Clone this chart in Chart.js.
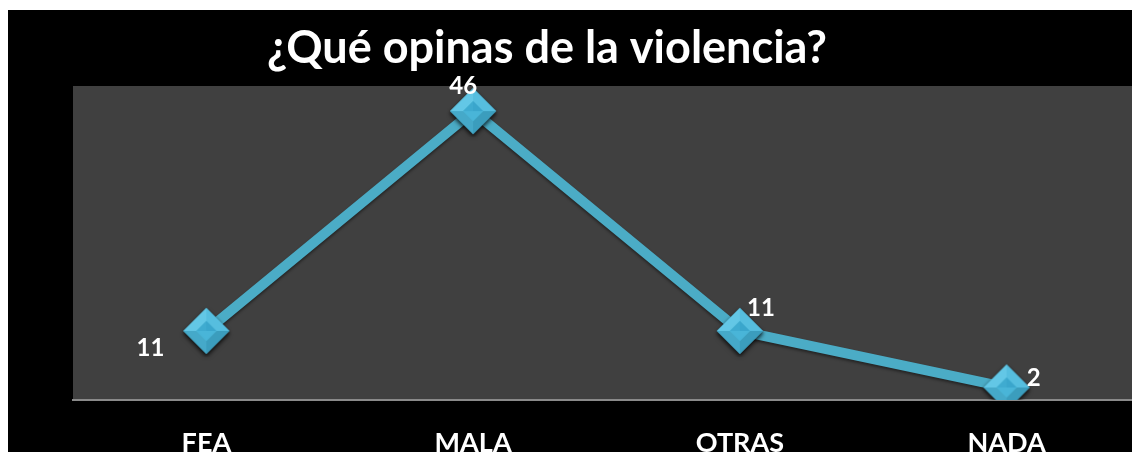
<!DOCTYPE html>
<html>
<head>
<meta charset="utf-8">
<script src="https://cdn.jsdelivr.net/npm/chart.js@4.4.0/dist/chart.umd.min.js"></script>
<style>
  html, body { margin: 0; padding: 0; background: #fff; overflow: hidden; }
  #marco { position: absolute; left: 8px; top: 10px; width: 1132px; height: 470px; background: #000; }
</style>
</head>
<body>
<div id="marco"><canvas id="grafica" width="1132" height="470"></canvas></div>
<script>
// Datos de la gráfica
const titulo = '¿Qué opinas de la violencia?';
const categorias = ['FEA', 'MALA', 'OTRAS', 'NADA'];
const valores = [11, 46, 11, 2];
const ejeMax = 50;

// desplazamiento de cada etiqueta respecto a su punto (solo estilo)
const desplazamientos = [[-56, 17], [-10, -25], [21, -23], [27, -9]];

const azul = '#4bacc6';

// marcador en forma de rombo con biselado
function crearRombo() {
  const c = document.createElement('canvas');
  c.width = 52; c.height = 52;
  const g = c.getContext('2d');
  const cx = 26, cy = 26, R = 23, r = 10;
  const T = [cx, cy - R], D = [cx + R, cy], B = [cx, cy + R], L = [cx - R, cy];
  const t = [cx, cy - r], d = [cx + r, cy], b = [cx, cy + r], l = [cx - r, cy];
  function poly(pts, color) {
    g.beginPath();
    g.moveTo(pts[0][0], pts[0][1]);
    for (let i = 1; i < pts.length; i++) g.lineTo(pts[i][0], pts[i][1]);
    g.closePath();
    g.fillStyle = color;
    g.fill();
  }
  g.save();
  g.shadowColor = 'rgba(0,0,0,0.55)';
  g.shadowBlur = 4;
  g.shadowOffsetY = 2;
  poly([T, D, B, L], '#4db4d4');
  g.restore();
  poly([T, t, l, L], '#63c7e6');
  poly([T, D, d, t], '#56bedf');
  poly([D, B, b, d], '#3b9dbd');
  poly([B, L, l, b], '#45a9c9');
  poly([t, d, [cx, cy]], '#3aa6cc');
  poly([t, l, [cx, cy]], '#3fabd0');
  poly([l, b, d, [cx, cy]], '#49b5d8');
  return c;
}

// fondo gris del área de trazado
const fondoArea = {
  id: 'fondoArea',
  beforeDraw(chart) {
    const a = chart.chartArea;
    const ctx = chart.ctx;
    ctx.save();
    ctx.fillStyle = '#404040';
    ctx.fillRect(a.left, a.top, a.right - a.left, a.bottom - a.top);
    ctx.restore();
  }
};

// título dibujado a mano para poder desplazarlo
const tituloPlugin = {
  id: 'tituloPlugin',
  afterDraw(chart) {
    const ctx = chart.ctx;
    ctx.save();
    ctx.font = 'bold 45px Lato';
    ctx.fillStyle = '#fff';
    ctx.textAlign = 'center';
    ctx.textBaseline = 'alphabetic';
    ctx.fillText(titulo, chart.width / 2 - 27, 53);
    ctx.restore();
  }
};

// etiquetas con los valores
const etiquetas = {
  id: 'etiquetas',
  afterDatasetsDraw(chart) {
    const ctx = chart.ctx;
    const meta = chart.getDatasetMeta(0);
    ctx.save();
    ctx.font = 'bold 24px Lato';
    ctx.fillStyle = '#fff';
    ctx.textAlign = 'center';
    ctx.textBaseline = 'middle';
    meta.data.forEach(function(p, i) {
      const off = desplazamientos[i];
      ctx.fillText(String(valores[i]), p.x + off[0], p.y + off[1]);
    });
    ctx.restore();
  }
};

// sombra ligera bajo la línea
const sombra = {
  id: 'sombra',
  beforeDatasetsDraw(chart) {
    const ctx = chart.ctx;
    ctx.save();
    ctx.shadowColor = 'rgba(0,0,0,0.45)';
    ctx.shadowBlur = 3;
    ctx.shadowOffsetY = 2;
  },
  afterDatasetsDraw(chart) {
    chart.ctx.restore();
  }
};

const ctx = document.getElementById('grafica').getContext('2d');
const grafica = new Chart(ctx, {
  type: 'line',
  data: {
    labels: categorias,
    datasets: [{
      data: valores,
      borderColor: azul,
      borderWidth: 10,
      tension: 0,
      fill: false,
      pointStyle: crearRombo(),
      pointRadius: 23,
      pointHoverRadius: 23
    }]
  },
  options: {
    responsive: false,
    animation: false,
    events: [],
    layout: { autoPadding: false, padding: { top: 76, left: 65, right: 0, bottom: 0 } },
    plugins: {
      legend: { display: false },
      title: { display: false },
      tooltip: { enabled: false }
    },
    scales: {
      x: {
        offset: true,
        grid: { display: false, drawTicks: false },
        border: { display: true, color: '#8a8a8a', width: 2 },
        ticks: {
          color: '#fff',
          padding: 27,
          font: { family: 'Lato', size: 27, weight: 'bold' }
        },
        afterFit(scale) { scale.height = 80; }
      },
      y: {
        display: false,
        min: 0,
        max: ejeMax
      }
    }
  },
  plugins: [fondoArea, sombra, etiquetas, tituloPlugin]
});
</script>
</body>
</html>
